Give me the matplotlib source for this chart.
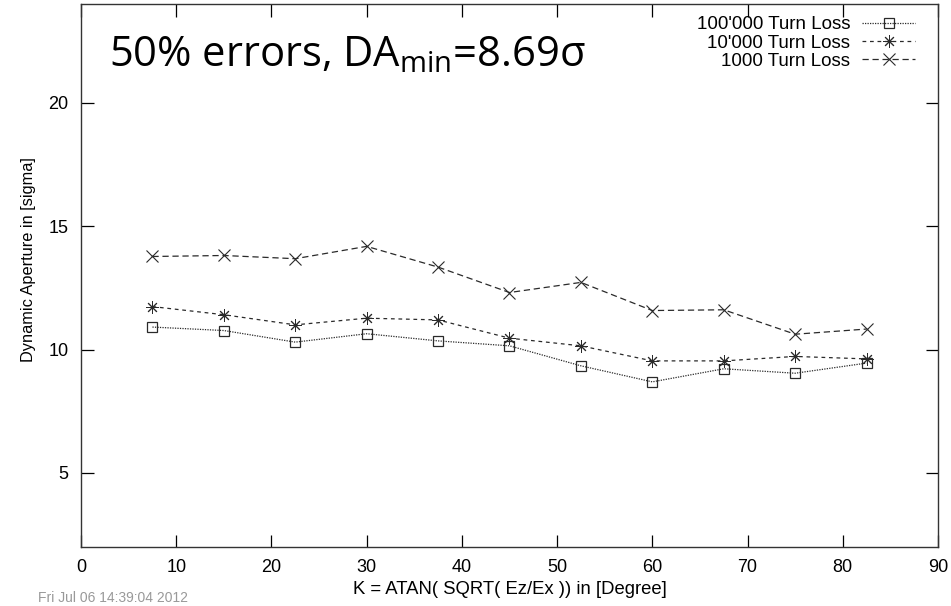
import numpy as np
import matplotlib
matplotlib.use("Agg")
import matplotlib.pyplot as plt

# scan angle K and dynamic aperture for the three tracking lengths
k_deg = [7.5, 15, 22.5, 30, 37.5, 45, 52.5, 60, 67.5, 75, 82.5]
da_100k = [10.91, 10.77, 10.30, 10.64, 10.35, 10.15, 9.34, 8.69, 9.22, 9.04, 9.45]
da_10k = [11.74, 11.41, 11.00, 11.27, 11.20, 10.46, 10.15, 9.54, 9.54, 9.72, 9.62]
da_1k = [13.77, 13.81, 13.68, 14.18, 13.34, 12.31, 12.72, 11.58, 11.61, 10.62, 10.83]
labels = ["100'000 Turn Loss", "10'000 Turn Loss", "1000 Turn Loss"]

x_ticks = [0, 10, 20, 30, 40, 50, 60, 70, 80, 90]
y_ticks = [5, 10, 15, 20]

plt.rcParams['font.family'] = ['Liberation Sans', 'DejaVu Sans']
plt.rcParams['mathtext.fontset'] = 'custom'
plt.rcParams['mathtext.rm'] = 'Open Sans'

fig = plt.figure(figsize=(9.51, 6.06), dpi=100)
ax = fig.add_axes([0.0852, 0.0974, 0.9011, 0.896])

lc = '#2a2a2a'
ax.plot(k_deg, da_100k, color=lc, lw=0.9, ls=(0, (1, 1)), marker='s', ms=6.5,
        mfc='none', mec=lc, mew=0.9, label=labels[0])
ax.plot(k_deg, da_10k, color=lc, lw=0.9, ls=(0, (3, 3)), marker=(8, 2, 0), ms=9,
        mec=lc, mew=0.7, label=labels[1])
ax.plot(k_deg, da_1k, color=lc, lw=0.9, ls=(0, (5, 3)), marker='x', ms=8,
        mec=lc, mew=0.8, label=labels[2])

ax.set_xlim(0, 90)
ax.set_ylim(2, 24)
ax.set_xticks(x_ticks)
ax.set_yticks(y_ticks)
ax.tick_params(direction='in', length=9, width=0.9, labelsize=13, pad=9,
               top=True, right=True, colors='black')
for s in ax.spines.values():
    s.set_linewidth(1.0)
    s.set_color('#333333')

ax.set_xlabel('K = ATAN( SQRT( Ez/Ex )) in [Degree]', fontsize=13.3, labelpad=3)
ax.set_ylabel('Dynamic Aperture in [sigma]', fontsize=11.8)
ax.yaxis.set_label_coords(-0.053, 0.529)

leg = ax.legend(loc='upper right', bbox_to_anchor=(0.973, 0.978), frameon=False,
                markerfirst=False, fontsize=13.5, handlelength=2.8,
                labelspacing=0.07, borderaxespad=0, borderpad=0,
                handletextpad=0.64)

ax.text(0.033, 0.885, r'50% errors, DA$_{\mathrm{min}}$=8.69σ', transform=ax.transAxes,
        fontsize=30, family='Open Sans', ha='left', va='baseline')

# gnuplot time stamp at the bottom edge
fig.text(0.04, 0.002, 'Fri Jul 06 14:39:04 2012', color='#999999', fontsize=10,
         ha='left', va='bottom')

fig.savefig('out.png', dpi=100)
